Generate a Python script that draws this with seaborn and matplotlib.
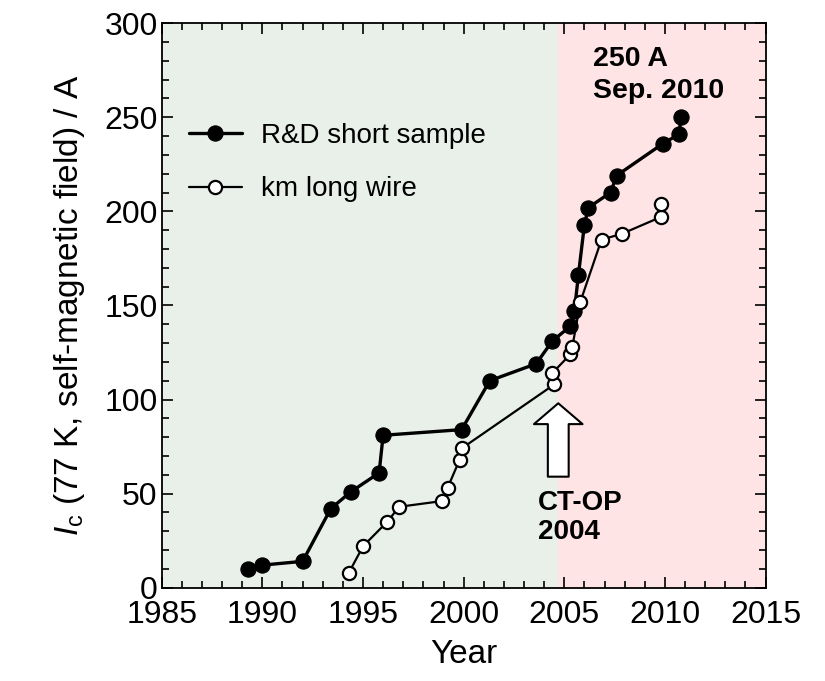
import numpy as np
import pandas as pd
import matplotlib
matplotlib.use('Agg')
import matplotlib.pyplot as plt
import seaborn as sns
from matplotlib.ticker import MultipleLocator

# R&D short sample (filled circles)
rd_year = [1989.3, 1990.0, 1992.0, 1993.4, 1994.4, 1995.8, 1996.0, 1999.9, 2001.3,
           2003.6, 2004.4, 2005.3, 2005.5, 2005.7, 2006.0, 2006.2, 2007.3, 2007.6,
           2009.9, 2010.7, 2010.8]
rd_ic = [10, 12, 14, 42, 51, 61, 81, 84, 110, 119, 131, 139, 147, 166, 193, 202,
         210, 219, 236, 241, 250]

# km long wire (open circles)
km_year = [1994.3, 1995.0, 1996.2, 1996.8, 1998.9, 1999.2, 1999.8, 1999.9, 2004.5,
           2004.4, 2005.3, 2005.4, 2005.8, 2006.85, 2007.85, 2009.8, 2009.8]
km_ic = [8, 22, 35, 43, 46, 53, 68, 74, 108, 114, 124, 128, 152, 185, 188, 197, 204]

sns.set_style('ticks')
plt.rcParams['font.family'] = ['Liberation Sans', 'DejaVu Sans']
plt.rcParams['mathtext.fontset'] = 'custom'
plt.rcParams['mathtext.it'] = 'Liberation Sans:italic'
plt.rcParams['mathtext.rm'] = 'Liberation Sans'
plt.rcParams['text.color'] = 'black'
plt.rcParams['axes.labelcolor'] = 'black'

fig = plt.figure(figsize=(8.25, 6.81), dpi=100)
ax = fig.add_axes([0.196, 0.137, 0.732, 0.829])

ax.axvspan(1985, 2004.7, color='#e9f0ea', lw=0, zorder=0)
ax.axvspan(2004.7, 2015, color='#ffe4e6', lw=0, zorder=0)

df_rd = pd.DataFrame({'year': rd_year, 'ic': rd_ic})
df_km = pd.DataFrame({'year': km_year, 'ic': km_ic})

sns.lineplot(data=df_rd, x='year', y='ic', sort=False, estimator=None, ax=ax,
             color='black', lw=2.4, marker='o', markersize=11,
             markerfacecolor='black', markeredgecolor='black',
             label='R&D short sample')
sns.lineplot(data=df_km, x='year', y='ic', sort=False, estimator=None, ax=ax,
             color='black', lw=1.6, marker='o', markersize=9.5,
             markerfacecolor='white', markeredgecolor='black', markeredgewidth=1.6,
             label='km long wire')

ax.set_xlim(1985, 2015)
ax.set_ylim(0, 300)
ax.xaxis.set_major_locator(MultipleLocator(5))
ax.xaxis.set_minor_locator(MultipleLocator(1))
ax.yaxis.set_major_locator(MultipleLocator(50))
ax.yaxis.set_minor_locator(MultipleLocator(10))
ax.tick_params(which='both', direction='in', top=True, right=True, width=1.2,
               colors='black')
ax.tick_params(which='major', length=8, labelsize=23)
ax.tick_params(axis='x', which='major', pad=9)
ax.tick_params(axis='y', which='major', pad=3)
ax.tick_params(which='minor', length=5)
for lab in ax.get_yticklabels():
    lab.set_verticalalignment('center_baseline')
for s in ax.spines.values():
    s.set_linewidth(1.3)
    s.set_color('black')

ax.set_xlabel('Year', fontsize=24, labelpad=6)
ax.set_ylabel(r'$I_\mathrm{c}$ (77 K, self-magnetic field) / A', fontsize=24, labelpad=12)

leg = ax.legend(loc='upper left', bbox_to_anchor=(0.045, 0.824), frameon=False,
                borderpad=0, borderaxespad=0,
                fontsize=20, handlelength=1.9, handletextpad=0.7, labelspacing=1.0)

ax.text(2006.42, 288, '250 A\nSep. 2010', fontsize=20.5, fontweight='bold',
        va='top', ha='left', linespacing=1.3)
ax.text(2003.7, 52, 'CT-OP\n2004', fontsize=20, fontweight='bold',
        va='top', ha='left', linespacing=1.15)
ax.annotate('', xy=(2004.7, 98), xytext=(2004.7, 59),
            arrowprops=dict(arrowstyle='simple,head_width=1.75,head_length=0.75,tail_width=0.75',
                            fc='white', ec='black', lw=1.5, mutation_scale=20,
                            shrinkA=0, shrinkB=0))

fig.savefig('out.png', dpi=100)
